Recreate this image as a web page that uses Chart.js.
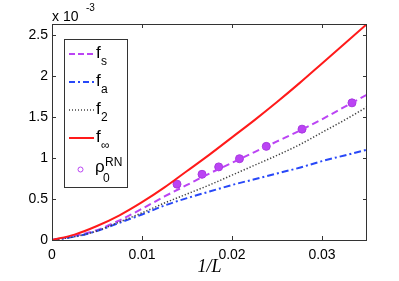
<!DOCTYPE html>
<html><head><meta charset="utf-8">
<style>html,body{margin:0;padding:0;background:#fff}#wrap{width:399px;height:281px;position:relative}</style>
<script src="https://cdn.jsdelivr.net/npm/chart.js@4/dist/chart.umd.min.js"></script>
</head><body><div id="wrap"><canvas id="c" width="399" height="281"></canvas></div>
<script>
// values in units of 1e-3
const xVals = [0, 0.0025, 0.005, 0.0075, 0.01, 0.0125, 0.015, 0.0175, 0.02, 0.0225, 0.025, 0.0275, 0.03, 0.0325, 0.035];
const fS   = [0, 0.05, 0.12, 0.24, 0.38, 0.53, 0.67, 0.81, 0.94, 1.07, 1.20, 1.33, 1.47, 1.62, 1.77];
const fA   = [0, 0.04, 0.11, 0.21, 0.31, 0.42, 0.51, 0.59, 0.67, 0.74, 0.81, 0.88, 0.96, 1.03, 1.10];
const f2   = [0, 0.04, 0.11, 0.22, 0.33, 0.45, 0.56, 0.67, 0.79, 0.91, 1.03, 1.16, 1.31, 1.46, 1.62];
const fInf = [0, 0.065, 0.17, 0.30, 0.46, 0.64, 0.84, 1.04, 1.25, 1.46, 1.68, 1.91, 2.15, 2.39, 2.63];
const rhoX = [0.01389, 0.01667, 0.01852, 0.02083, 0.02381, 0.02778, 0.03333];
const rhoY = [0.68, 0.80, 0.89, 0.99, 1.14, 1.35, 1.67];
const xTicks = [0, 0.01, 0.02, 0.03];
const xTickLabels = ['0', '0.01', '0.02', '0.03'];
const yTicks = [0, 0.5, 1, 1.5, 2, 2.5];
const yTickLabels = ['0', '0.5', '1', '1.5', '2', '2.5'];
const xMax = 0.035, yMax = 2.63;

const MAG = '#bb44f4', BLUE = '#2848f8', GRAY = '#444', RED = '#ff1a1a';
const pts = ys => xVals.map((x, i) => ({x: x, y: ys[i]}));
const SANS = 'Liberation Sans, Arial, Helvetica, sans-serif';

const framePlugin = {
  id: 'frame',
  afterDraw(chart) {
    const ctx = chart.ctx, a = chart.chartArea;
    const xs = chart.scales.x, ys = chart.scales.y;
    ctx.save();
    ctx.strokeStyle = '#333'; ctx.lineWidth = 1;
    ctx.strokeRect(Math.round(a.left) + 0.5, Math.round(a.top) + 0.5, Math.round(a.right - a.left) - 1, Math.round(a.bottom - a.top));
    ctx.beginPath();
    xTicks.forEach(v => {
      const p = Math.round(xs.getPixelForValue(v)) + 0.5;
      ctx.moveTo(p, a.bottom); ctx.lineTo(p, a.bottom - 4);
      ctx.moveTo(p, a.top); ctx.lineTo(p, a.top + 4);
    });
    yTicks.forEach(v => {
      const p = Math.round(ys.getPixelForValue(v)) + 0.5;
      ctx.moveTo(a.left, p); ctx.lineTo(a.left + 4, p);
      ctx.moveTo(a.right, p); ctx.lineTo(a.right - 4, p);
    });
    ctx.stroke();
    // exponent label
    ctx.fillStyle = '#000';
    ctx.textAlign = 'left'; ctx.textBaseline = 'alphabetic';
    ctx.font = '14px ' + SANS;
    ctx.fillText('x 10', 52, 21);
    ctx.font = '10px ' + SANS;
    ctx.fillText('-3', 86, 11);
    // legend
    const L = 64, T = 39, W = 63, H = 148;
    ctx.fillStyle = '#fff';
    ctx.fillRect(L, T, W, H);
    ctx.strokeStyle = '#333';
    ctx.strokeRect(L + 0.5, T + 0.5, W, H);
    const rows = [
      {y: 54, color: MAG, dash: [6, 3], w: 2, sub: 's'},
      {y: 82, color: BLUE, dash: [6, 3, 2, 3], w: 2, sub: 'a'},
      {y: 110, color: GRAY, dash: [1, 2], w: 1.3, sub: '2'},
      {y: 138, color: RED, dash: [], w: 2, sub: '∞'}
    ];
    rows.forEach(r => {
      ctx.beginPath();
      ctx.setLineDash(r.dash);
      ctx.strokeStyle = r.color; ctx.lineWidth = r.w;
      ctx.moveTo(69, r.y); ctx.lineTo(94, r.y);
      ctx.stroke();
      ctx.setLineDash([]);
      ctx.fillStyle = '#000';
      ctx.font = '17px ' + SANS;
      ctx.fillText('f', 96, r.y + 4);
      ctx.font = '12px ' + SANS;
      ctx.fillText(r.sub, 101, r.y + 11);
    });
    ctx.beginPath();
    ctx.strokeStyle = MAG; ctx.lineWidth = 1;
    ctx.arc(80.5, 169.5, 2.5, 0, Math.PI * 2);
    ctx.stroke();
    ctx.fillStyle = '#000';
    ctx.font = '17px ' + SANS;
    ctx.fillText('ρ', 95, 172);
    ctx.font = '12px ' + SANS;
    ctx.fillText('0', 103, 182);
    ctx.fillText('RN', 105, 166);
    ctx.restore();
  }
};

const lineDs = (label, ys, color, dash, w) => ({
  label: label, data: pts(ys), borderColor: color, borderWidth: w, borderDash: dash,
  pointRadius: 0, fill: false, tension: 0.4, cubicInterpolationMode: 'monotone'
});

new Chart(document.getElementById('c').getContext('2d'), {
  type: 'line',
  data: {
    datasets: [
      lineDs('f_inf', fInf, RED, [], 2),
      lineDs('f_2', f2, GRAY, [1.3, 1.9], 1.5),
      lineDs('f_a', fA, BLUE, [7, 3, 2, 3], 2),
      lineDs('f_s', fS, MAG, [7, 4], 2),
      {label: 'rho', type: 'scatter', data: rhoX.map((x, i) => ({x: x, y: rhoY[i]})), showLine: false,
       pointRadius: 4, backgroundColor: MAG, borderColor: '#a838e0', borderWidth: 1}
    ]
  },
  options: {
    responsive: false, animation: false, devicePixelRatio: 1,
    layout: {padding: {top: 24, right: 32, left: 0, bottom: 0}},
    plugins: {legend: {display: false}, tooltip: {enabled: false}},
    scales: {
      x: {
        type: 'linear', min: 0, max: xMax,
        afterBuildTicks: s => { s.ticks = xTicks.map(v => ({value: v})); },
        afterFit: s => { s.height = 41; },
        grid: {display: false, drawTicks: false}, border: {display: false},
        ticks: {padding: 7, color: '#000', font: {family: SANS, size: 14}, maxRotation: 0,
                callback: (v, i) => xTickLabels[i]},
        title: {display: true, text: '1/L', color: '#000',
                font: {family: 'Liberation Serif, DejaVu Serif, serif', style: 'italic', size: 18},
                padding: {top: 0, bottom: 3}}
      },
      y: {
        type: 'linear', min: 0, max: yMax,
        afterBuildTicks: s => { s.ticks = yTicks.map(v => ({value: v})); },
        afterFit: s => { s.width = 52; },
        grid: {display: false, drawTicks: false}, border: {display: false},
        ticks: {padding: 4, color: '#000', font: {family: SANS, size: 14},
                callback: (v, i) => yTickLabels[i]}
      }
    }
  },
  plugins: [framePlugin]
});
</script>
</body></html>
